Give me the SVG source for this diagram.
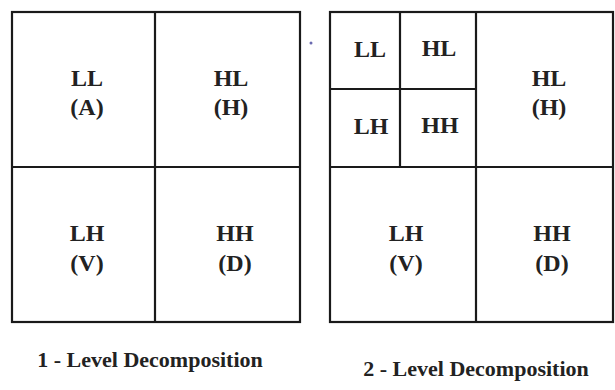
<svg xmlns="http://www.w3.org/2000/svg" width="615" height="390" viewBox="0 0 615 390">
<style>
.box{fill:none;stroke:#1a1a1a;stroke-width:2.2}
.ln{stroke:#1a1a1a;stroke-width:2.2}
text{font-family:'Liberation Serif','Times New Roman','DejaVu Serif',serif;font-weight:bold;fill:#222;text-anchor:middle}
.t{font-size:24px}
.cap{font-size:22px}
</style>
<rect width="615" height="390" fill="#fff"/>
<g id="level1">
<rect class="box" x="12" y="12" width="288" height="310"/>
<g id="connectors1">
<line class="ln" x1="155" y1="12" x2="155" y2="322"/>
<line class="ln" x1="12" y1="167" x2="300" y2="167"/>
</g>
<g id="l1-LL"><text class="t" x="87" y="86">LL</text><text class="t" x="87" y="115">(A)</text></g>
<g id="l1-HL"><text class="t" x="231" y="86">HL</text><text class="t" x="231" y="115">(H)</text></g>
<g id="l1-LH"><text class="t" x="87" y="241">LH</text><text class="t" x="87" y="271">(V)</text></g>
<g id="l1-HH"><text class="t" x="235" y="241">HH</text><text class="t" x="235" y="271">(D)</text></g>
<text id="cap1" class="cap" x="150" y="367">1 - Level Decomposition</text>
</g>
<circle cx="311" cy="43" r="1.5" fill="#6a6ab0"/>
<g id="level2">
<rect class="box" x="330" y="12" width="283" height="310"/>
<g id="connectors2">
<line class="ln" x1="476" y1="12" x2="476" y2="322"/>
<line class="ln" x1="330" y1="167" x2="613" y2="167"/>
<line class="ln" x1="400" y1="12" x2="400" y2="167"/>
<line class="ln" x1="330" y1="89" x2="476" y2="89"/>
</g>
<g id="l2-LL"><text class="t" x="370" y="57">LL</text></g>
<g id="l2-HL"><text class="t" x="439" y="56">HL</text></g>
<g id="l2-LH"><text class="t" x="371" y="134">LH</text></g>
<g id="l2-HH"><text class="t" x="440" y="133">HH</text></g>
<g id="l2-HL1"><text class="t" x="549" y="86">HL</text><text class="t" x="549" y="115">(H)</text></g>
<g id="l2-LH1"><text class="t" x="406" y="241">LH</text><text class="t" x="406" y="271">(V)</text></g>
<g id="l2-HH1"><text class="t" x="552" y="241">HH</text><text class="t" x="552" y="271">(D)</text></g>
<text id="cap2" class="cap" x="476" y="376">2 - Level Decomposition</text>
</g>
</svg>
